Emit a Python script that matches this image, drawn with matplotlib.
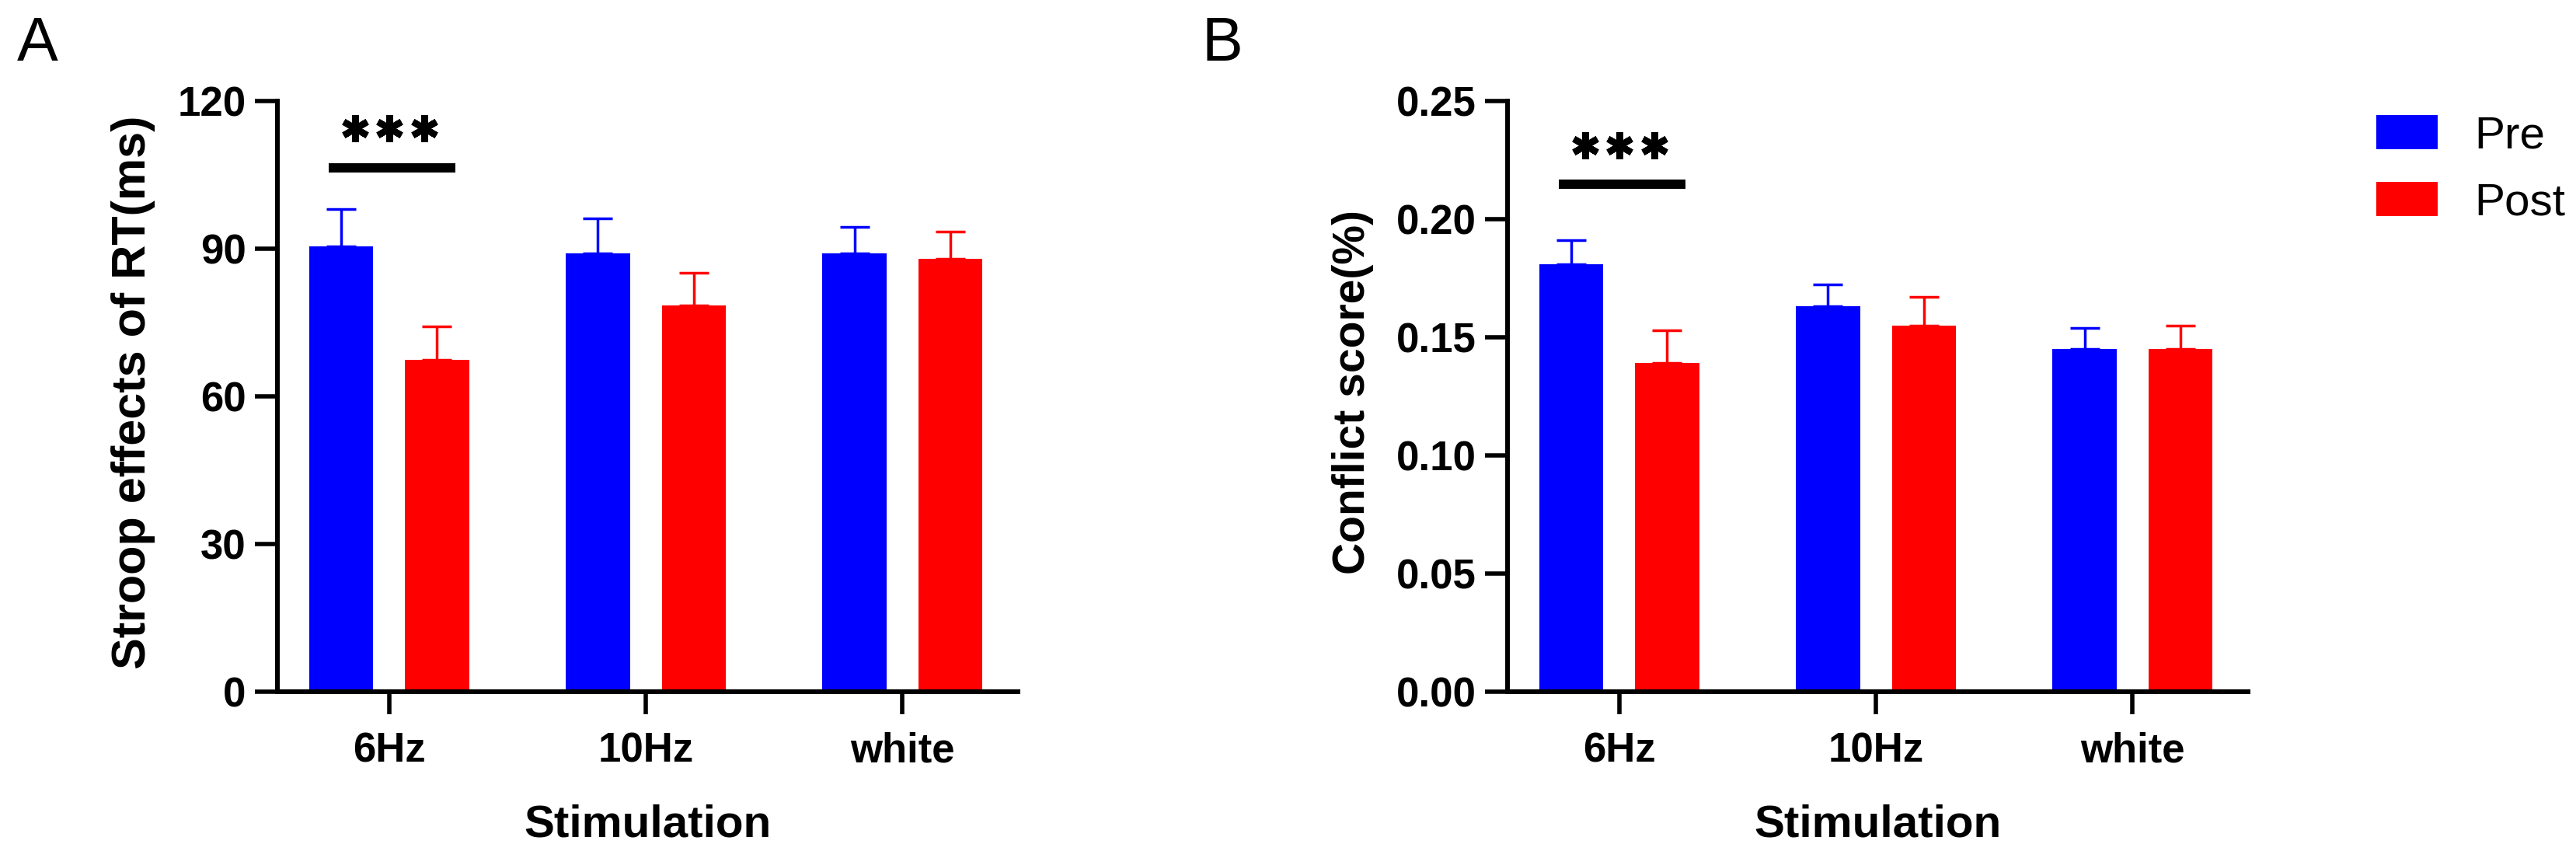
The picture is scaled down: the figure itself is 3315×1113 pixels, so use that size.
import numpy as np
import matplotlib
matplotlib.use("Agg")
import matplotlib.pyplot as plt
from matplotlib import font_manager
from matplotlib.patches import Patch


def pick_font(names):
    have = {f.name for f in font_manager.fontManager.ttflist}
    return [n for n in names if n in have] + ["DejaVu Sans"]


NARROW = pick_font(["Liberation Sans Narrow", "Liberation Sans", "Arial"])
WIDE = pick_font(["Liberation Sans", "Arial"])

# data
groups = ["6Hz", "10Hz", "white"]
series = ["Pre", "Post"]

rt_pre = [90.5, 89.0, 89.0]
rt_pre_err = [7.5, 7.2, 5.4]
rt_post = [67.5, 78.5, 88.0]
rt_post_err = [6.7, 6.6, 5.4]

cs_pre = [0.181, 0.163, 0.145]
cs_pre_err = [0.010, 0.0095, 0.009]
cs_post = [0.139, 0.155, 0.145]
cs_post_err = [0.014, 0.012, 0.010]

rt_ticks = [0, 30, 60, 90, 120]
cs_ticks = [0.00, 0.05, 0.10, 0.15, 0.20, 0.25]

colors = ["#0000FF", "#FF0000"]

W, H, DPI = 3316, 1113, 100
fig = plt.figure(figsize=(W / DPI, H / DPI), dpi=DPI)

ax_w = 953 / W
ax_h = 760 / H
ax_b = (H - 890) / H
axA = fig.add_axes([357 / W, ax_b, ax_w, ax_h])
axB = fig.add_axes([1940 / W, ax_b, ax_w, ax_h])

x = np.arange(len(groups))
bw = 0.25
off = 0.187


def draw(ax, pre, pre_err, post, post_err, ticks, fmt, ylabel, ylab_size, lab_x,
         sig_y, star_y):
    for vals, errs, sign, c in [(pre, pre_err, -1, colors[0]), (post, post_err, 1, colors[1])]:
        xs = x + sign * off
        ax.bar(xs, vals, width=bw, color=c, edgecolor="none", zorder=2)
        ax.errorbar(xs, vals, yerr=[np.zeros(len(vals)), errs], fmt="none",
                    ecolor=c, elinewidth=2.5, capsize=14, capthick=2.5, zorder=3)
    ax.set_xlim(-0.435, 2.45)
    ax.set_ylim(ticks[0], ticks[-1])
    ax.set_yticks(ticks)
    ax.set_yticklabels([fmt.format(t) for t in ticks])
    ax.set_xticks(x)
    ax.set_xticklabels(groups)
    for s in ["top", "right"]:
        ax.spines[s].set_visible(False)
    for s in ["left", "bottom"]:
        ax.spines[s].set_linewidth(4.3)
    ax.tick_params(axis="y", direction="out", length=21, width=4.0, pad=8)
    ax.tick_params(axis="x", direction="out", length=21, width=4.0, pad=16)
    for lab in ax.get_xticklabels() + ax.get_yticklabels():
        lab.set_fontfamily(NARROW)
        lab.set_fontweight("bold")
        lab.set_fontsize(38)
    ax.set_ylabel(ylabel, fontsize=ylab_size, fontweight="bold", family=WIDE)
    ax.yaxis.set_label_coords(lab_x, 0.507)
    ax.set_xlabel("Stimulation", fontsize=42, fontweight="bold", family=NARROW)
    ax.xaxis.set_label_coords(0.5, -0.19)
    ax.xaxis.label.set_va("top")
    # significance bar and stars over 6Hz
    ax.plot([-0.235, 0.258], [sig_y, sig_y], color="black", lw=8.6,
            solid_capstyle="butt", clip_on=False)
    ax.plot([-0.133, 0.002, 0.136], [star_y] * 3, linestyle="none",
            marker=(6, 2, 0), markersize=25, markeredgewidth=6,
            color="black", clip_on=False)


draw(axA, rt_pre, rt_pre_err, rt_post, rt_post_err, rt_ticks, "{:.0f}",
     "Stroop effects of RT(ms)", 44, -0.165, 106.4, 114.5)
draw(axB, cs_pre, cs_pre_err, cs_post, cs_post_err, cs_ticks, "{:.2f}",
     "Conflict score(%)", 41, -0.180, 0.2148, 0.2312)

fig.text(22 / W, 1 - 20 / H, "A", fontsize=57, family=WIDE, ha="left", va="top")
fig.text(1547 / W, 1 - 20 / H, "B", fontsize=57, family=WIDE, ha="left", va="top")

handles = [Patch(facecolor=c, edgecolor="none") for c in colors]
fig.legend(handles, series, loc="upper left",
           bbox_to_anchor=(3058 / W, 1 - 148 / H), bbox_transform=fig.transFigure,
           frameon=False, borderpad=0, borderaxespad=0,
           handlelength=1.36, handleheight=0.78, handletextpad=0.8,
           labelspacing=0.55, prop={"family": NARROW, "size": 42})

fig.savefig("out.png", dpi=DPI)
